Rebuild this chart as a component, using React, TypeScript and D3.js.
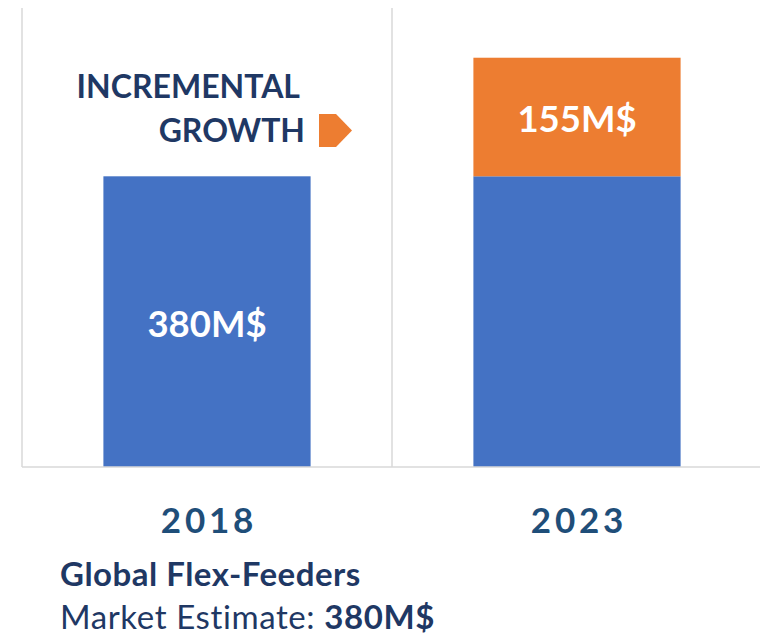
import React from "react";
import * as d3 from "d3";

const categories = ["2018", "2023"];
const baseValues = [380, 380];
const incrementValues = [0, 155];
const baseLabels = ["380M$", ""];
const incrementLabels = ["", "155M$"];
const yMax = 600;

const W = 760;
const H = 636;
const FONT = "Lato, 'Open Sans', sans-serif";

export default function App() {
  const x = d3
    .scaleBand<string>()
    .domain(categories)
    .range([22, 762])
    .paddingInner(0.44)
    .paddingOuter(0.22);
  const y = d3.scaleLinear().domain([0, yMax]).range([467, 8]);
  const step = x.step();
  const gridXs = [0, 1, 2].map((i) => 22 + i * step);

  return (
    <svg
      width={W}
      height={H}
      style={{ position: "absolute", left: 0, top: 0, background: "#fff" }}
    >
      {gridXs.map((gx, i) => (
        <line key={i} x1={gx} x2={gx} y1={y(yMax)} y2={y(0)} stroke="#d9d9d9" strokeWidth={1.5} />
      ))}
      {categories.map((c, i) => {
        const bx = x(c)!;
        const bw = x.bandwidth();
        const b = baseValues[i];
        const inc = incrementValues[i];
        return (
          <g key={c}>
            <rect x={bx} y={y(b)} width={bw} height={y(0) - y(b)} fill="#4472C4" />
            {inc > 0 && (
              <rect x={bx} y={y(b + inc)} width={bw} height={y(b) - y(b + inc)} fill="#ED7D31" />
            )}
            {baseLabels[i] && (
              <text
                x={bx + bw / 2}
                y={y(b / 2) + 15}
                textAnchor="middle"
                fill="#fff"
                fontFamily={FONT}
                fontWeight={700}
                fontSize={36.5}
              >
                {baseLabels[i]}
              </text>
            )}
            {incrementLabels[i] && (
              <text
                x={bx + bw / 2}
                y={y(b + inc / 2) + 14.5}
                textAnchor="middle"
                fill="#fff"
                fontFamily={FONT}
                fontWeight={700}
                fontSize={36.5}
              >
                {incrementLabels[i]}
              </text>
            )}
            <text
              x={bx + bw / 2 + 2}
              y={533}
              textAnchor="middle"
              fill="#1F4E79"
              fontFamily={FONT}
              fontWeight={700}
              fontSize={35}
              letterSpacing={3.8}
            >
              {c}
            </text>
          </g>
        );
      })}
      <line x1={22} x2={W} y1={y(0)} y2={y(0)} stroke="#d9d9d9" strokeWidth={1.5} />
      <text x={300} y={98} textAnchor="end" fill="#1F3864" fontFamily={FONT} fontWeight={700} fontSize={32}>
        INCREMENTAL
      </text>
      <text x={305} y={142} textAnchor="end" fill="#1F3864" fontFamily={FONT} fontWeight={700} fontSize={32}>
        GROWTH
      </text>
      <polygon points="319,114 336,114 352,130.5 336,147 319,147" fill="#ED7D31" />
      <text x={60} y={586} fill="#1F3864" fontFamily={FONT} fontWeight={700} fontSize={33} letterSpacing={0.5}>
        Global Flex-Feeders
      </text>
      <text x={60} y={629} fill="#1F3864" fontFamily={FONT} fontSize={33} letterSpacing={0.6}>
        Market Estimate: <tspan fontWeight={700}>380M$</tspan>
      </text>
    </svg>
  );
}
